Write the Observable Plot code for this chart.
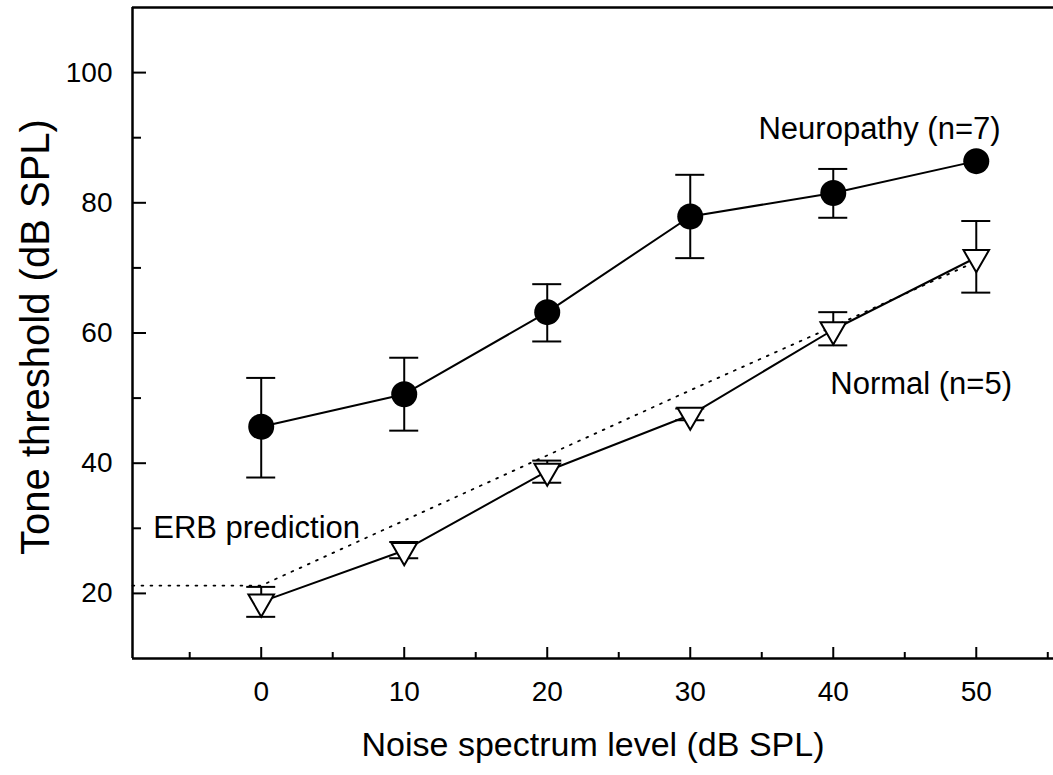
<!DOCTYPE html>
<html><head><meta charset="utf-8">
<script src="https://cdn.jsdelivr.net/npm/d3@7"></script>
<script src="https://cdn.jsdelivr.net/npm/@observablehq/plot@0.6"></script>
<style>html,body{margin:0;padding:0;background:#fff;overflow:hidden} svg{display:block}</style>
</head><body><div id="chart"></div>
<script>
// Data
const noiseLevels = [0, 10, 20, 30, 40, 50];
const neuropathyMean = [45.6, 50.6, 63.2, 77.9, 81.5, 86.4];
const neuropathyLow  = [37.8, 45.0, 58.7, 71.5, 77.7, null];
const neuropathyHigh = [53.1, 56.2, 67.5, 84.3, 85.2, null];
const normalMean = [18.7, 26.6, 38.8, 47.4, 60.5, 71.6];
const normalLow  = [16.4, 25.4, 37.0, 46.6, 58.1, 66.2];
const normalHigh = [21.0, 27.9, 40.4, 48.4, 63.2, 77.2];
const erbLevels = [-9, 0, 10, 20, 30, 40, 50];
const erbPrediction = [21.2, 21.2, 31.2, 41.2, 51.2, 61.0, 71.0];
const xMajorTicks = [0, 10, 20, 30, 40, 50];
const xMinorTicks = [-5, 5, 15, 25, 35, 45, 55];
const yMajorTicks = [20, 40, 60, 80, 100];
const yMinorTicks = [30, 50, 70, 90];
const labelTexts = ["Neuropathy (n=7)", "Normal (n=5)", "ERB prediction"];
const labelX = [51.7, 52.5, -7.55];
const labelY = [91.4, 52.2, 30.0];
const labelAnchor = ["end", "end", "start"];
const xTitle = "Noise spectrum level (dB SPL)";
const yTitle = "Tone threshold (dB SPL)";

const neuro = noiseLevels.map((x, i) => ({x, y: neuropathyMean[i], lo: neuropathyLow[i], hi: neuropathyHigh[i]}));
const norm = noiseLevels.map((x, i) => ({x, y: normalMean[i], lo: normalLow[i], hi: normalHigh[i]}));
const erb = erbLevels.map((x, i) => ({x, y: erbPrediction[i]}));
const labels = labelTexts.map((t, i) => ({t, x: labelX[i], y: labelY[i], a: labelAnchor[i]}));
const neuroErr = neuro.filter(d => d.lo != null);

const W = 2;
function errorBars(data) {
  return [
    Plot.ruleX(data, {x: "x", y1: "lo", y2: "hi", stroke: "black", strokeWidth: W}),
    Plot.ruleY(data, {y: "hi", x1: "x", x2: "x", insetLeft: -14.5, insetRight: -14.5, stroke: "black", strokeWidth: W}),
    Plot.ruleY(data, {y: "lo", x1: "x", x2: "x", insetLeft: -14.5, insetRight: -14.5, stroke: "black", strokeWidth: W})
  ];
}
const font = "Arial, 'Liberation Sans', sans-serif";

const chart = Plot.plot({
  width: 1053,
  height: 775,
  marginLeft: 132,
  marginRight: 0,
  marginTop: 7,
  marginBottom: 117,
  style: {fontFamily: font, fontSize: "28px", color: "black", background: "white"},
  x: {domain: [-9, 55.4], label: null},
  y: {domain: [10, 110], label: null},
  marks: [
    ...errorBars(neuroErr),
    ...errorBars(norm),
    Plot.line(erb, {x: "x", y: "y", stroke: "black", strokeWidth: 1.8, strokeDasharray: "1.8,7.2"}),
    Plot.line(neuro, {x: "x", y: "y", stroke: "black", strokeWidth: W}),
    Plot.line(norm, {x: "x", y: "y", stroke: "black", strokeWidth: W}),
    Plot.dot(neuro, {x: "x", y: "y", r: 13, fill: "black", stroke: "none"}),
    Plot.dot(norm, {x: "x", y: "y", symbol: "triangle", r: 9.5, rotate: 180, fill: "white", stroke: "black", strokeWidth: W}),
    Plot.ruleY([110], {stroke: "black", strokeWidth: 2.5}),
    Plot.ruleY([10], {stroke: "black", strokeWidth: 2.5}),
    Plot.ruleX([-9], {stroke: "black", strokeWidth: 2.5}),
    Plot.axisX(xMajorTicks, {tickSize: -11, tickPadding: 34, fontSize: 28, strokeWidth: 2, label: null}),
    Plot.axisX(xMinorTicks, {tickSize: -6, tickFormat: () => "", strokeWidth: 2, label: null}),
    Plot.axisY(yMajorTicks, {tickSize: -14, tickPadding: 34, fontSize: 28, strokeWidth: 2, label: null}),
    Plot.axisY(yMinorTicks, {tickSize: -9, tickFormat: () => "", strokeWidth: 2, label: null}),
    Plot.text(labels.filter(d => d.a === "end"), {x: "x", y: "y", text: "t", textAnchor: "end", fontSize: 31, fill: "black"}),
    Plot.text(labels.filter(d => d.a === "start"), {x: "x", y: "y", text: "t", textAnchor: "start", fontSize: 31, fill: "black"}),
    Plot.text([xTitle], {frameAnchor: "bottom", dy: 87, lineAnchor: "middle", textAnchor: "middle", fontSize: 34, fill: "black"}),
    Plot.text([yTitle], {frameAnchor: "left", dx: -96, dy: 4, rotate: -90, textAnchor: "middle", lineAnchor: "middle", fontSize: 40, fill: "black"})
  ]
});
document.getElementById("chart").appendChild(chart);
</script>
</body></html>
